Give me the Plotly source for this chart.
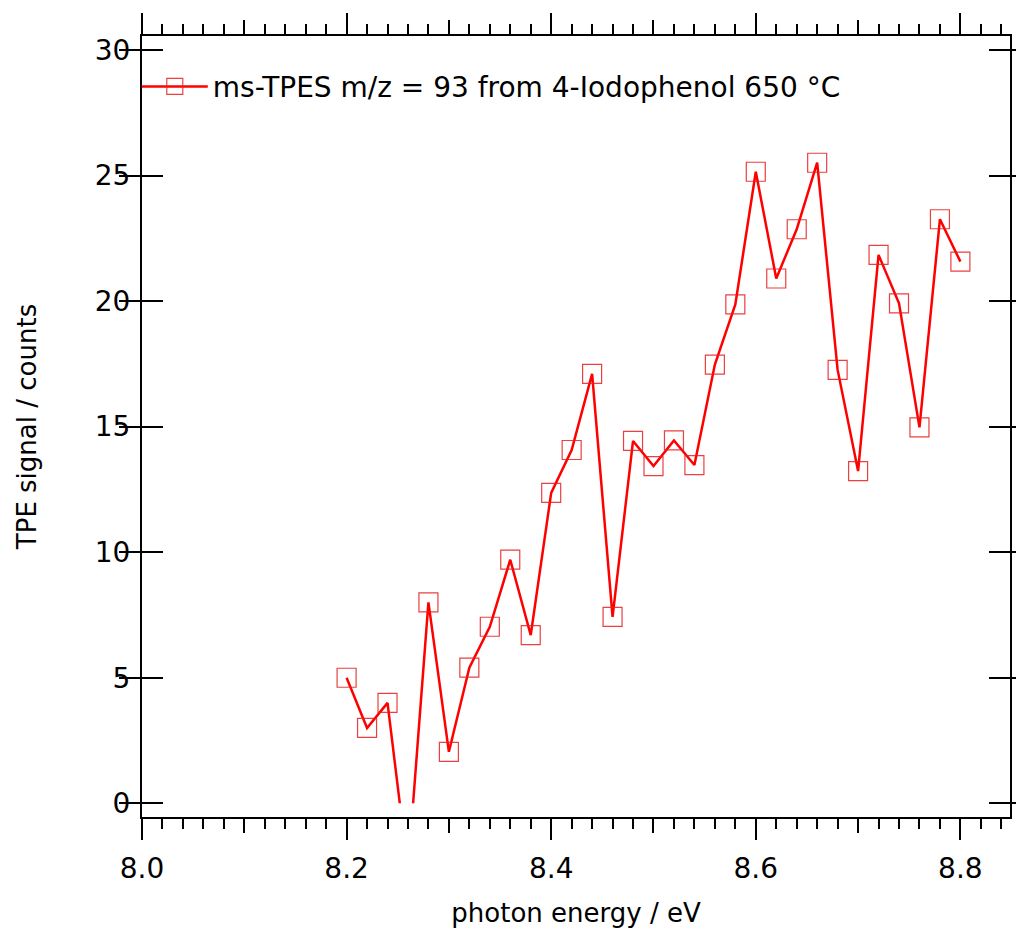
import plotly.graph_objects as go

energy = [8.20, 8.22, 8.24, 8.26, 8.28, 8.30, 8.32, 8.34, 8.36, 8.38,
          8.40, 8.42, 8.44, 8.46, 8.48, 8.50, 8.52, 8.54, 8.56, 8.58,
          8.60, 8.62, 8.64, 8.66, 8.68, 8.70, 8.72, 8.74, 8.76, 8.78, 8.80]
signal = [5.0, 3.0, 4.0, -2.67, 8.0, 2.05, 5.4, 7.03, 9.7, 6.7,
          12.36, 14.07, 17.1, 7.42, 14.43, 13.43, 14.45, 13.47, 17.47, 19.87,
          25.15, 20.9, 22.86, 25.51, 17.26, 13.23, 21.84, 19.91, 14.97, 23.26, 21.57]

xrange_ = [8.0, 8.8485]
yrange_ = [-0.546, 30.557]
FONT = "DejaVu Sans"
RED = "rgb(255,0,0)"

fig = go.Figure()
fig.add_trace(go.Scatter(
    x=energy, y=signal, mode="lines+markers",
    name="ms-TPES m/z = 93 from 4-Iodophenol 650 \u00b0C",
    line=dict(color=RED, width=2.5),
    marker=dict(symbol="square-open", size=19, color="rgba(230,30,30,0.85)",
                line=dict(width=1.2, color="rgba(230,30,30,0.85)")),
    xaxis="x", yaxis="y",
))
# invisible helper trace so the secondary (0.1-step tick) axis is drawn
fig.add_trace(go.Scatter(
    x=energy, y=signal, mode="lines", line=dict(width=0), opacity=0,
    showlegend=False, hoverinfo="skip", xaxis="x2", yaxis="y",
))

# mask: signal below zero is not displayed in the original
fig.add_shape(type="rect", xref="x", yref="y", x0=8.245, x1=8.275,
              y0=yrange_[0], y1=0, fillcolor="white", line=dict(width=0), layer="above")

fig.update_layout(
    width=1016, height=933,
    margin=dict(l=142, r=4, t=36, b=116),
    paper_bgcolor="white", plot_bgcolor="white",
    font=dict(family=FONT, color="black"),
    showlegend=True,
    legend=dict(x=-0.006, y=0.935, xanchor="left", yanchor="middle",
                font=dict(size=28, family=FONT), bgcolor="rgba(0,0,0,0)",
                borderwidth=0, itemwidth=66),
    xaxis=dict(
        range=xrange_, showgrid=False, zeroline=False,
        showline=True, linecolor="black", linewidth=2, mirror="allticks",
        ticks="outside", ticklen=21, tickwidth=2, tickcolor="black",
        tick0=8.0, dtick=0.2, tickformat=".1f", ticklabelstandoff=4,
        tickfont=dict(size=28, family=FONT),
        minor=dict(dtick=0.02, tick0=8.0, ticks="outside", ticklen=10,
                   tickwidth=2, tickcolor="black", showgrid=False),
        title=dict(text="photon energy / eV", font=dict(size=26, family=FONT), standoff=20),
    ),
    xaxis2=dict(
        range=xrange_, overlaying="x", anchor="y", side="bottom",
        showgrid=False, zeroline=False, showline=False, mirror="allticks",
        ticks="outside", ticklen=15, tickwidth=2, tickcolor="black",
        tick0=8.0, dtick=0.1, showticklabels=False,
    ),
    yaxis=dict(
        range=yrange_, showgrid=False, zeroline=False,
        showline=True, linecolor="black", linewidth=2, mirror="allticks",
        ticks="inside", ticklen=21, tickwidth=2, tickcolor="black",
        tick0=0, dtick=5, tickfont=dict(size=28, family=FONT), ticklabelstandoff=4,
        title=dict(text="TPE signal / counts", font=dict(size=26, family=FONT), standoff=51),
    ),
)

fig.write_html("out.html")
